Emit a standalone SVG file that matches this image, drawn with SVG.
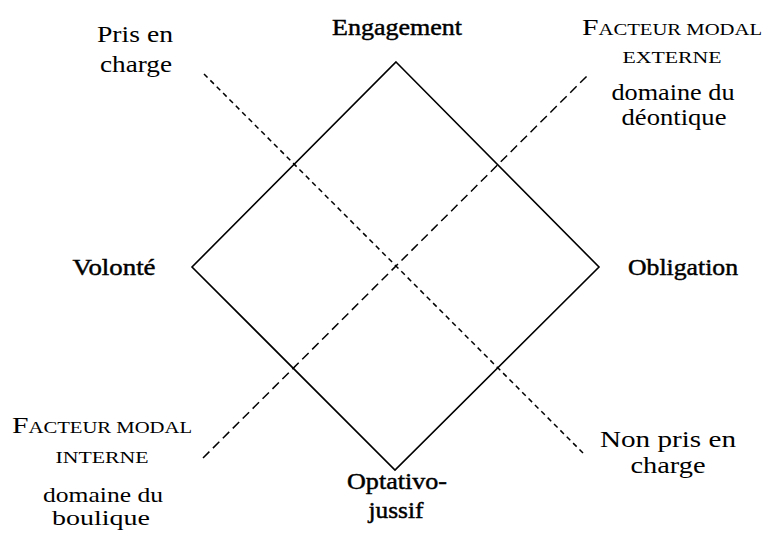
<svg xmlns="http://www.w3.org/2000/svg" width="765" height="536" viewBox="0 0 765 536" font-family="'Liberation Serif', 'DejaVu Serif', serif">
<style>
text{font-family:'Liberation Serif','DejaVu Serif',serif;font-size:23px;fill:#000;text-anchor:middle}
.b{stroke:#000;stroke-width:0.45}
.sc{font-size:16px}
.s{font-size:21px}
.d1{stroke:#000;stroke-width:1.5;stroke-dasharray:5 4;fill:none}
.d2{stroke:#000;stroke-width:1.5;stroke-dasharray:9 5;fill:none}
</style>
<rect width="765" height="536" fill="#fff"/>
<g id="connectors">
<path d="M396 62 L599 267 L395 470 L192 267 Z" fill="none" stroke="#000" stroke-width="1.6" stroke-linejoin="miter"/>
<line class="d1" x1="204" y1="74" x2="585" y2="455"/>
<line class="d2" x1="203" y1="458" x2="588" y2="75"/>
</g>
<g id="engagement"><text class="b" x="397" y="35" textLength="130" lengthAdjust="spacingAndGlyphs">Engagement</text></g>
<g id="volonte"><text class="b" x="114" y="275" textLength="83" lengthAdjust="spacingAndGlyphs">Volonté</text></g>
<g id="obligation"><text class="b" x="683" y="275" textLength="110" lengthAdjust="spacingAndGlyphs">Obligation</text></g>
<g id="optativo"><text class="b" x="397" y="489" textLength="100" lengthAdjust="spacingAndGlyphs">Optativo-</text><text class="b" x="396" y="518" textLength="55" lengthAdjust="spacingAndGlyphs">jussif</text></g>
<g id="pris"><text x="135" y="42" textLength="76" lengthAdjust="spacingAndGlyphs">Pris en</text><text x="136" y="72" textLength="72" lengthAdjust="spacingAndGlyphs">charge</text></g>
<g id="nonpris"><text x="668" y="447" textLength="136" lengthAdjust="spacingAndGlyphs">Non pris en</text><text x="668" y="473" textLength="75" lengthAdjust="spacingAndGlyphs">charge</text></g>
<g id="externe"><text x="672" y="35" textLength="180" lengthAdjust="spacingAndGlyphs">F<tspan class="sc">ACTEUR MODAL</tspan></text><text class="sc" x="672" y="63" textLength="99" lengthAdjust="spacingAndGlyphs">EXTERNE</text><text x="673" y="100" textLength="123" lengthAdjust="spacingAndGlyphs">domaine du</text><text x="674" y="125" textLength="105" lengthAdjust="spacingAndGlyphs">déontique</text></g>
<g id="interne"><text x="102" y="433" textLength="180" lengthAdjust="spacingAndGlyphs">F<tspan class="sc">ACTEUR MODAL</tspan></text><text class="sc" x="102" y="463" textLength="93" lengthAdjust="spacingAndGlyphs">INTERNE</text><text class="s" x="103" y="502" textLength="120" lengthAdjust="spacingAndGlyphs">domaine du</text><text class="s" x="101" y="525" textLength="98" lengthAdjust="spacingAndGlyphs">boulique</text></g>
</svg>
